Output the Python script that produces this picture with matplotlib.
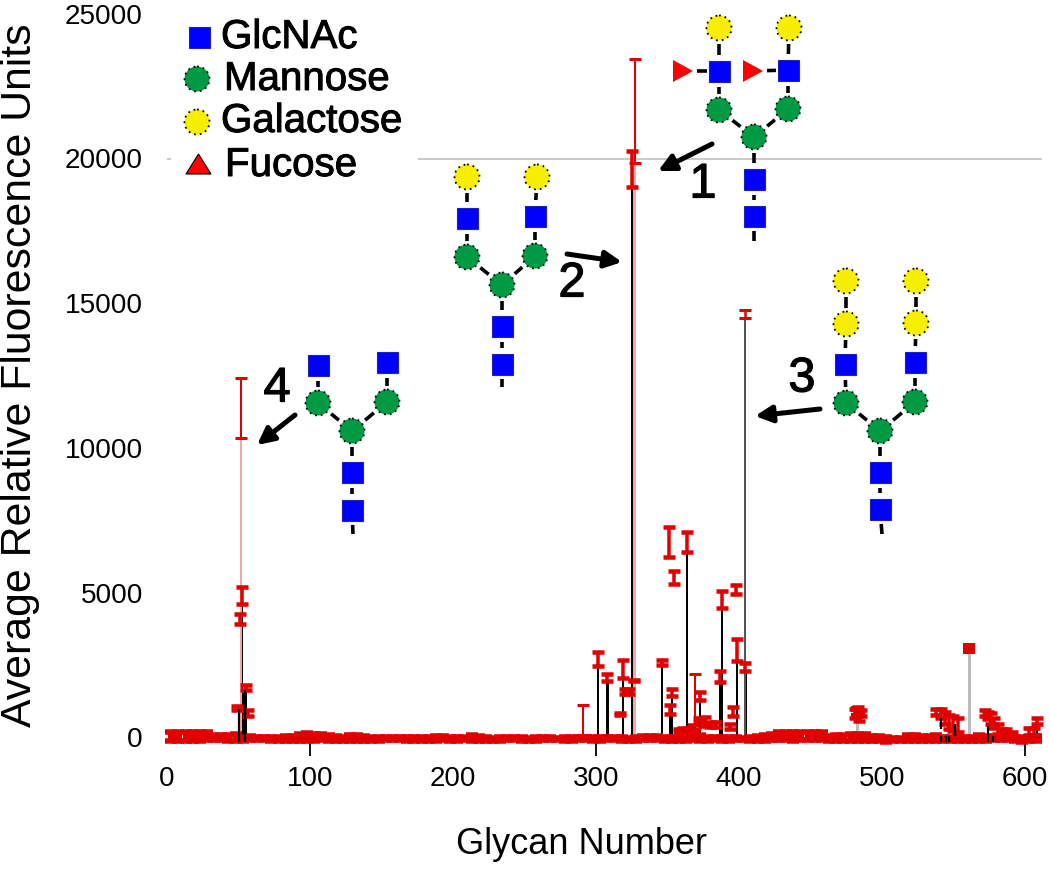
import numpy as np
import matplotlib
matplotlib.use("Agg")
import matplotlib.pyplot as plt
from matplotlib.patches import Circle, Rectangle, Polygon
from matplotlib.transforms import ScaledTranslation
import matplotlib.patheffects as pe

plt.rcParams['font.family'] = ['Liberation Sans', 'DejaVu Sans']

# ---- data -------------------------------------------------------------
base_hi = [200,200,200,200,200,200,90,120,110,140,
           50,70,40,30,20,30,60,70,130,170,
           130,130,120,70,50,90,100,60,50,40,
           30,40,40,30,20,30,40,70,70,40,
           30,20,90,60,30,10,40,30,20,30,
           10,30,40,20,0,30,40,50,50,30,
           20,50,40,20,10,20,60,60,70,40,
           40,20,10,60,90,40,30,20,40,20,
           0,30,60,100,130,190,190,200,200,220,
           220,220,80,110,110,130,150,130,60,60,
           20,10,10,120,120,80,70,90,40,20,
           20,20,30,100,80,70,60,60,50,40,
           30,60]
base_lo = [-90,-100,-110,-120,-100,-80,-70,-70,-100,-110,
           -90,-60,-60,-70,-100,-110,-110,-100,-100,-100,
           -90,-80,-110,-100,-90,-90,-100,-120,-120,-90,
           -80,-80,-70,-90,-110,-90,-90,-100,-80,-90,
           -110,-70,-90,-90,-110,-90,-120,-60,-70,-100,
           -110,-90,-70,-60,-70,-110,-90,-80,-80,-90,
           -110,-70,-70,-110,-110,-90,-80,-60,-60,-100,
           -110,-100,-110,-70,-90,-90,-60,-110,-120,-80,
           -70,-120,-120,-100,-80,-70,-80,-100,-80,-70,
           -80,-80,-120,-110,-100,-110,-120,-100,-90,-110,
           -130,-120,-100,-120,-100,-90,-90,-100,-120,-110,
           -90,-110,-120,-90,-90,-80,-70,-80,-100,-130,
           -110,-90]

black_x  = [52.7, 55.3, 301.6, 308.0, 319.0, 325.0, 346.4, 353.0, 352.0, 363.4, 372.5, 388.0, 387.0, 398.8, 404.5, 608.4]
black_lo = [4630, 1670, 2500, 1980, 2060, 19030, 2530, 1460, 830, 6410, 1310, 4490, 1930, 2660, 2320, 480]
black_hi = [5200, 1840, 2980, 2210, 2690, 20285, 2700, 1690, 1140, 7110, 1590, 5090, 2320, 3420, 2590, 690]

float_x  = [51.0, 49.0, 56.6, 317.0, 320.0, 323.0, 326.5, 351.3, 354.3, 397.7, 395.5, 394.0,
            358, 361, 365, 368, 372, 376, 380, 384,
            481, 483, 485, 484, 538, 541, 544, 547, 550, 553,
            572, 574, 576, 578, 581, 584, 587, 591, 603, 606]
float_lo = [3940, 950, 770, 780, 1520, 1520, 1980, 6260, 5320, 4970, 770, 300,
            200, 200, 200, 250, 550, 400, 380, 380,
            700, 800, 750, 600, 800, 700, 500, 300, 250, 200,
            750, 650, 500, 350, 150, 100, 100, 50, 100, 100]
float_hi = [4280, 1100, 980, 880, 1700, 1700, 2000, 7280, 5780, 5280, 1070, 480,
            300, 350, 350, 450, 700, 720, 560, 540,
            1000, 1080, 950, 900, 1000, 1000, 900, 800, 750, 700,
            950, 900, 850, 700, 500, 300, 300, 200, 350, 350]

thin_x  = [51.7, 327.0, 290.7, 369.0]
thin_lo = [10370, 19860, 100, 300]
thin_hi = [12435, 23450, 1150, 2210]

gray_x   = [482.6, 561.0]
gray_val = [750, 3000]
gray_hi  = [1000, 3190]

dark_x  = [404.0]
dark_lo = [14500]
dark_hi = [14795]

fg_x  = [50.3, 54.5, 541, 541, 544.5, 546.8, 551, 574, 577.5]
fg_lo = [-140, -140, 310, -150, -150, -150, 80, -150, -150]
fg_hi = [1000, 1650, 690, 80, 80, 80, 480, 425, 80]

x_ticks = [0, 100, 200, 300, 400, 500, 600]
x_ticks_marked = [100, 300, 600]
y_ticks = [0, 5000, 10000, 15000, 20000, 25000]

legend_names = ['GlcNAc', 'Mannose', 'Galactose', 'Fucose']

RED = '#e00000'
BLUE = '#0000ff'
GREEN = '#009a44'
YELLOW = '#f8ee00'
FUC = '#ff0000'

W, H = 1050, 870
px_x = 1.43      # pixels per glycan number
px_y = 0.02895   # pixels per RFU
left_px, bottom_px = 167, 745
zero_px = 739

fig = plt.figure(figsize=(W/100, H/100), dpi=100, facecolor='white')
ax = fig.add_axes([left_px/W, (H-bottom_px)/H, (W-left_px)/W, bottom_px/H])
ax.set_xlim(0, (W-left_px)/px_x)
ax.set_ylim(-(bottom_px-zero_px)/px_y, zero_px/px_y)
for s in ax.spines.values():
    s.set_visible(False)
ax.patch.set_alpha(0)

def pt(px):
    return px*72/100

heavy = [pe.withStroke(linewidth=0.7, foreground='black')]
heavier = [pe.withStroke(linewidth=0.9, foreground='black')]

def errs(x, lo, hi, cap, line, z=4, cw=6.3, color=RED):
    lo, hi = np.array(lo, float), np.array(hi, float)
    res = ax.errorbar(x, lo, yerr=[np.zeros_like(lo), hi-lo], fmt='none', ecolor=color,
                      elinewidth=pt(line), capsize=pt(cw), capthick=pt(cap), zorder=z)
    for c in list(res[1])+list(res[2]):
        c.set_clip_on(False)

# reference line at 20000 with its small stub
ax.hlines(20000, (418-left_px)/px_x, (1042-left_px)/px_x, color='#bdbdbd', lw=pt(1.6), zorder=1)
ax.hlines(20000, 0, 3, color='#bdbdbd', lw=pt(1.6), zorder=1)

# stems
ax.bar(black_x, black_lo, width=1.5, color='black', zorder=2)
ax.bar(thin_x[:2], thin_lo[:2], width=2.0, color='#f4a5a5', zorder=2)
ax.bar(thin_x[2:], thin_lo[2:], width=1.4, color='#ee8080', zorder=2)
ax.bar(gray_x, gray_val, width=2.2, color='#bdbdbd', zorder=2)
ax.bar(dark_x, dark_lo, width=1.6, color='#555555', zorder=2)

# error bars
errs(np.arange(len(base_hi))*5+3, base_lo, base_hi, 5.5, 7, z=3)
errs(black_x, black_lo, black_hi, 4.5, 3.5)
errs(float_x, float_lo, float_hi, 4.5, 3.5)
errs(thin_x, thin_lo, thin_hi, 3, 2)
errs(gray_x, gray_val, gray_hi, 6, 4)
errs(dark_x, dark_lo, dark_hi, 3, 2.5)
ax.vlines(fg_x, fg_lo, fg_hi, color='black', lw=pt(2.2), zorder=5)
ax.bar([54.5], [1650], width=3.5, color='black', zorder=2)

# ticks
ax.set_xticks(x_ticks)
ax.set_yticks(y_ticks)
ax.tick_params(axis='y', length=0, pad=pt(24), labelsize=20.2)
ax.tick_params(axis='x', length=pt(12), width=pt(1.8), color='black', pad=pt(9), labelsize=20.0)
up = ScaledTranslation(0, 1.5/100, fig.dpi_scale_trans)
for lab in ax.get_yticklabels():
    lab.set_transform(lab.get_transform()+up)
for tk, v in zip(ax.xaxis.get_major_ticks(), x_ticks):
    if v not in x_ticks_marked:
        tk.tick1line.set_visible(False)
fig.text(582/W, 1-845/H, 'Glycan Number', ha='center', va='center', fontsize=26)
fig.text(20/W, 1-375/H, 'Average Relative Fluorescence Units', rotation=90,
         ha='center', va='center', fontsize=30.8)

# ---- annotation layer in pixel coordinates ------------------------------
ov = fig.add_axes([0, 0, 1, 1])
ov.set_xlim(0, W)
ov.set_ylim(H, 0)
ov.axis('off')
ov.patch.set_alpha(0)

R = 12.5
S = 21

def gal(c):
    ov.add_patch(Circle(c, R, fc=YELLOW, ec='black', lw=1.3, ls=(0, (1, 2.2)), zorder=6))
def man(c):
    ov.add_patch(Circle(c, R, fc=GREEN, ec='black', lw=1.3, ls=(0, (1, 2.2)), zorder=6))
def glc(c):
    ov.add_patch(Rectangle((c[0]-S/2, c[1]-S/2), S, S, fc=BLUE, ec='#2020c0', lw=0.8, zorder=6))
def fuc_right(c):
    x, y = c
    ov.add_patch(Polygon([(x-10, y-11), (x-10, y+11), (x+10, y)], fc=FUC, ec='none', zorder=6))

def bond(a, b, ta=16, tb=16):
    a, b = np.array(a, float), np.array(b, float)
    d = (b-a)/np.hypot(*(b-a))
    p, q = a+d*ta, b-d*tb
    ov.plot([p[0], q[0]], [p[1], q[1]], color='black', lw=pt(3.6), solid_capstyle='butt', zorder=5)

def antenna(chain):
    for a, b in zip(chain[:-1], chain[1:]):
        bond(a, b)

def glycan(core, left, right, stub):
    c1, c2, c3 = core          # branching mannose, two GlcNAc below
    bond(c1, c2); bond(c2, c3); bond(c3, stub, 15, 0)
    glc(c2); glc(c3); man(c1)
    for arm, shapes in (left, right):
        bond(arm[0], c1, 17, 17)
        antenna(arm)
        for pos, f in zip(arm, shapes):
            f(pos)

# 1
glycan([(754, 138), (754, 180), (754, 217)],
       ([(719, 111), (719, 72), (719, 29)], [man, glc, gal]),
       ([(788, 110), (788, 71), (789, 29)], [man, glc, gal]),
       (754, 242))
for t, g in (((683, 72), (719, 72)), ((753, 72), (788, 71))):
    bond(t, g, 14, 12)
    fuc_right(t)
# 2
glycan([(502, 286), (502, 327), (502, 365)],
       ([(467, 258), (467, 219), (467, 178)], [man, glc, gal]),
       ([(535, 257), (535, 217), (537, 178)], [man, glc, gal]),
       (502, 388))
# 3
glycan([(880, 432), (880, 473), (880, 510)],
       ([(846, 404), (845, 365), (846, 325), (846, 282)], [man, glc, gal, gal]),
       ([(915, 403), (915, 363), (916, 324), (916, 282)], [man, glc, gal, gal]),
       (882, 535))
# 4
glycan([(352, 432), (352, 473), (352, 511)],
       ([(318, 404), (318, 366)], [man, glc]),
       ([(387, 403), (387, 363)], [man, glc]),
       (353, 535))

# arrows and numbers
arrows = [((712, 145), (658, 172)), ((567, 255), (622, 263)),
          ((820, 410), (755, 417)), ((295, 416), (257, 446))]
for a, b in arrows:
    ov.annotate('', xy=b, xytext=a, zorder=7,
                arrowprops=dict(arrowstyle='-|>,head_width=0.25,head_length=0.5', color='black',
                                lw=pt(5), shrinkA=0, shrinkB=0, mutation_scale=20))
for s, (x, y) in zip('1234', [(703, 186), (572, 285), (802, 380), (277, 390)]):
    ov.text(x, y, s, fontsize=35, ha='center', va='center', color='black', zorder=7,
            path_effects=heavier)

# legend
man((197, 80)); gal((197, 123)); glc((199, 38))
ov.add_patch(Polygon([(186, 175), (211, 175), (198.5, 155)], fc=FUC, ec='black', lw=0.8, zorder=6))
for s, x, y in zip(legend_names, [221, 224, 221, 225], [38, 80, 122, 166]):
    ov.text(x, y, s, fontsize=29, ha='left', va='center', color='black', zorder=7,
            path_effects=heavy)

fig.savefig('out.png', dpi=100, facecolor='white')
